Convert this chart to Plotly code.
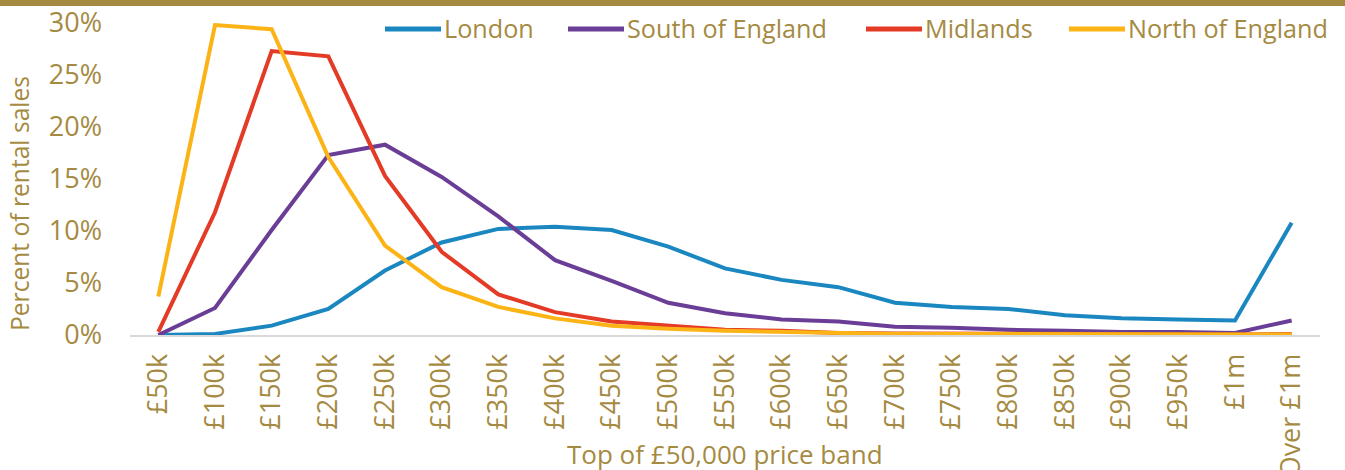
import plotly.graph_objects as go

bands = ["£50k", "£100k", "£150k", "£200k", "£250k", "£300k", "£350k", "£400k", "£450k",
         "£500k", "£550k", "£600k", "£650k", "£700k", "£750k", "£800k", "£850k", "£900k",
         "£950k", "£1m", "Over £1m"]

london = [0.0, 0.1, 0.9, 2.5, 6.2, 8.9, 10.2, 10.4, 10.1, 8.5, 6.4, 5.3, 4.6, 3.1, 2.7, 2.5,
          1.9, 1.6, 1.5, 1.4, 10.8]
south = [0.0, 2.6, 10.1, 17.3, 18.3, 15.2, 11.4, 7.2, 5.2, 3.1, 2.1, 1.5, 1.3, 0.8, 0.7, 0.5,
         0.4, 0.3, 0.3, 0.2, 1.4]
midlands = [0.3, 11.8, 27.3, 26.8, 15.3, 8.0, 3.9, 2.2, 1.3, 0.9, 0.5, 0.4, 0.2, 0.15, 0.12,
            0.1, 0.08, 0.06, 0.05, 0.05, 0.1]
north = [3.7, 29.8, 29.4, 17.1, 8.6, 4.6, 2.7, 1.6, 0.9, 0.6, 0.4, 0.3, 0.15, 0.1, 0.1, 0.08,
         0.06, 0.05, 0.04, 0.03, 0.05]

series_names = ["London", "South of England", "Midlands", "North of England"]
series_values = [london, south, midlands, north]
series_colors = ["#1A87C0", "#6A3D96", "#E43B26", "#FCB316"]

GOLD = "#A58A42"
FONT = "Open Sans"

# plot area geometry (pixels)
L, R, T, B = 130, 25, 23, 135
W, H = 1345, 470
PW, PH = W - L - R, H - T - B


def px_x(p):
    return (p - L) / PW


def px_y(p):
    return (H - B - p) / PH


fig = go.Figure()
for name, vals, col in zip(series_names, series_values, series_colors):
    fig.add_trace(go.Scatter(x=bands, y=[v / 100 for v in vals], name=name, mode="lines",
                             line=dict(color=col, width=4)))

# manual legend (line swatch + label), positioned like the reference
leg_line_start = [385, 568, 866, 1069]
shapes = [dict(type="rect", xref="paper", yref="paper", x0=-0.2, x1=1.1,
               y0=px_y(6), y1=px_y(-5), fillcolor=GOLD, line=dict(width=0), layer="above")]
annotations = []
for name, col, x0 in zip(series_names, series_colors, leg_line_start):
    shapes.append(dict(type="line", xref="paper", yref="paper", x0=px_x(x0), x1=px_x(x0 + 56),
                       y0=px_y(29), y1=px_y(29), line=dict(color=col, width=5)))
    annotations.append(dict(text=name, xref="paper", yref="paper", x=px_x(x0 + 57),
                            y=px_y(28), xanchor="left", yanchor="middle", showarrow=False,
                            font=dict(family=FONT, size=25.2, color=GOLD)))

annotations.append(dict(text="Top of £50,000 price band", xref="paper", yref="paper",
                        x=px_x(725), y=px_y(454), xanchor="center", yanchor="middle",
                        showarrow=False, font=dict(family=FONT, size=26, color=GOLD)))
annotations.append(dict(text="Percent of rental sales", xref="paper", yref="paper",
                        x=px_x(20), y=px_y(204), xanchor="center", yanchor="middle",
                        textangle=-90, showarrow=False,
                        font=dict(family=FONT, size=24.6, color=GOLD)))

fig.update_layout(
    width=W, height=H,
    margin=dict(l=L, r=R, t=T, b=B),
    paper_bgcolor="white", plot_bgcolor="white",
    font=dict(family=FONT, color=GOLD, size=25),
    showlegend=False,
    xaxis=dict(type="category", range=[-0.5, 20.5], showgrid=False, showline=True,
               linecolor="#D9D9D9", linewidth=2, tickangle=-90, ticks="",
               ticklabelstandoff=6, automargin=False,
               tickfont=dict(family=FONT, size=27, color=GOLD)),
    yaxis=dict(range=[0, 0.3], dtick=0.05, tickformat=".0%", showgrid=False,
               zeroline=False, showline=False, ticks="", ticklabelstandoff=27,
               automargin=False,
               tickfont=dict(family=FONT, size=27, color=GOLD)),
    shapes=shapes,
    annotations=annotations,
)

fig.write_html("out.html")
